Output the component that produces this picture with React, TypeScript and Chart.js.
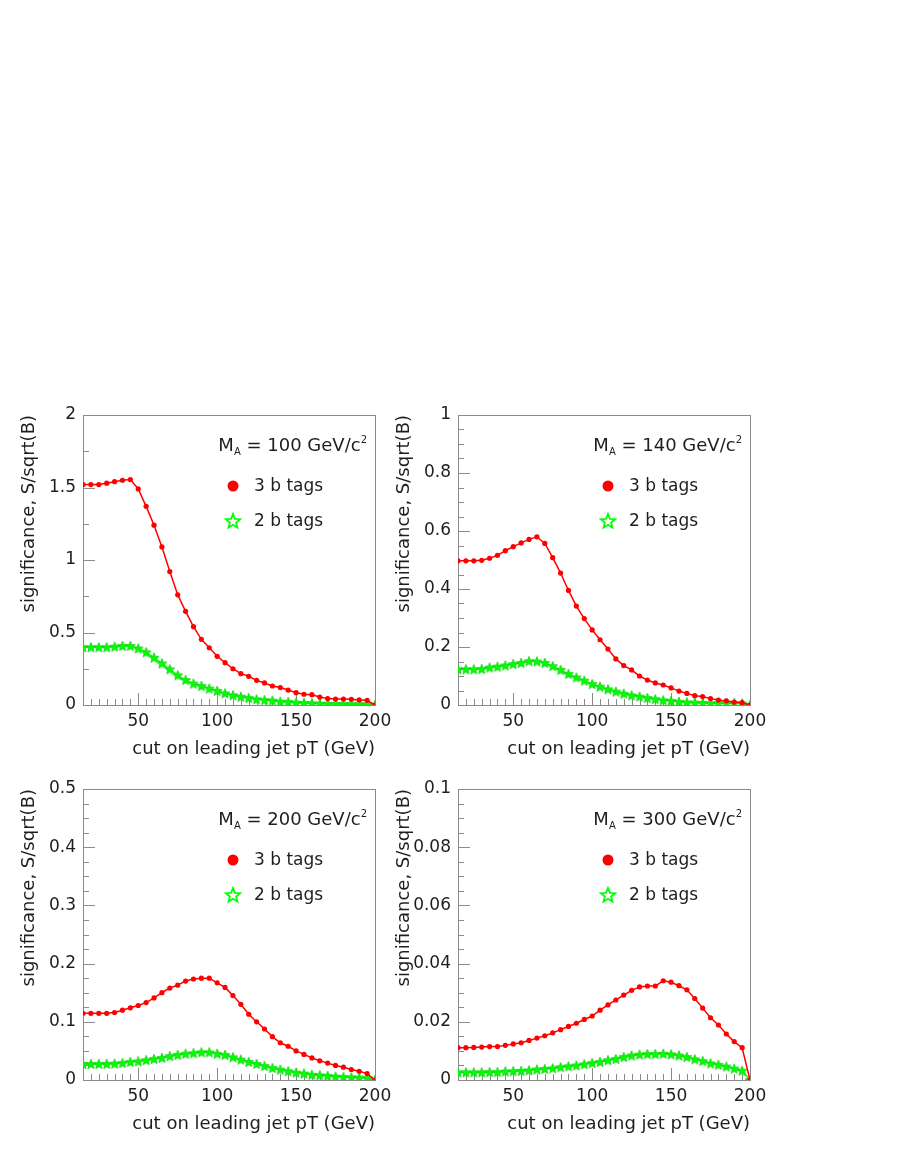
import React, { useEffect, useRef } from "react";
import { Chart, registerables } from "chart.js";

Chart.register(...registerables);

// ---- data ----
const cutValues = [15, 20, 25, 30, 35, 40, 45, 50, 55, 60, 65, 70, 75, 80, 85, 90, 95, 100, 105, 110, 115, 120, 125, 130, 135, 140, 145, 150, 155, 160, 165, 170, 175, 180, 185, 190, 195, 200];

const sig3b_MA100 = [1.52, 1.52, 1.52, 1.53, 1.54, 1.55, 1.555, 1.49, 1.37, 1.24, 1.09, 0.92, 0.76, 0.646, 0.54, 0.453, 0.395, 0.336, 0.292, 0.25, 0.216, 0.198, 0.17, 0.152, 0.131, 0.12, 0.103, 0.085, 0.074, 0.071, 0.055, 0.044, 0.041, 0.041, 0.039, 0.035, 0.032, 0];
const sig2b_MA100 = [0.398, 0.398, 0.398, 0.398, 0.402, 0.407, 0.407, 0.39, 0.363, 0.326, 0.287, 0.246, 0.205, 0.172, 0.147, 0.131, 0.113, 0.097, 0.08, 0.067, 0.057, 0.048, 0.039, 0.034, 0.03, 0.023, 0.021, 0.016, 0.014, 0.012, 0.009, 0.009, 0.007, 0.007, 0.006, 0.005, 0.005, 0];

const sig3b_MA140 = [0.497, 0.497, 0.497, 0.499, 0.506, 0.516, 0.532, 0.546, 0.559, 0.571, 0.58, 0.557, 0.508, 0.455, 0.395, 0.341, 0.298, 0.259, 0.225, 0.193, 0.159, 0.136, 0.121, 0.1, 0.086, 0.076, 0.069, 0.059, 0.048, 0.04, 0.032, 0.029, 0.022, 0.017, 0.014, 0.01, 0.008, 0];
const sig2b_MA140 = [0.123, 0.123, 0.123, 0.124, 0.129, 0.132, 0.136, 0.141, 0.145, 0.151, 0.15, 0.145, 0.134, 0.121, 0.107, 0.095, 0.084, 0.072, 0.063, 0.054, 0.046, 0.039, 0.033, 0.029, 0.024, 0.02, 0.016, 0.014, 0.011, 0.009, 0.008, 0.007, 0.006, 0.006, 0.006, 0.006, 0.005, 0];

const sig3b_MA200 = [0.1145, 0.1145, 0.1145, 0.1145, 0.116, 0.12, 0.124, 0.128, 0.133, 0.141, 0.15, 0.158, 0.163, 0.17, 0.1735, 0.175, 0.175, 0.167, 0.159, 0.145, 0.13, 0.113, 0.1, 0.0876, 0.0745, 0.064, 0.058, 0.05, 0.044, 0.038, 0.033, 0.029, 0.025, 0.022, 0.018, 0.015, 0.011, 0];
const sig2b_MA200 = [0.0275, 0.0275, 0.0275, 0.0275, 0.028, 0.029, 0.031, 0.032, 0.034, 0.036, 0.038, 0.041, 0.043, 0.045, 0.046, 0.0475, 0.0475, 0.045, 0.043, 0.039, 0.035, 0.031, 0.0275, 0.024, 0.0206, 0.0178, 0.015, 0.0126, 0.011, 0.009, 0.008, 0.007, 0.0057, 0.005, 0.0046, 0.004, 0.0034, 0];

const sig3b_MA300 = [0.0111, 0.0111, 0.0112, 0.0113, 0.0115, 0.0115, 0.0119, 0.0124, 0.0128, 0.0136, 0.0144, 0.0152, 0.0162, 0.0173, 0.0184, 0.0195, 0.0208, 0.022, 0.024, 0.0258, 0.0275, 0.0292, 0.0308, 0.032, 0.0323, 0.0323, 0.0341, 0.0336, 0.0324, 0.031, 0.028, 0.0247, 0.0214, 0.0189, 0.0158, 0.0132, 0.0111, 0];
const sig2b_MA300 = [0.0026, 0.0026, 0.0026, 0.0026, 0.0027, 0.0027, 0.0029, 0.003, 0.0031, 0.0033, 0.0036, 0.0038, 0.004, 0.0044, 0.0047, 0.005, 0.0054, 0.0058, 0.0062, 0.0068, 0.0072, 0.0079, 0.0084, 0.0087, 0.0089, 0.0089, 0.009, 0.0088, 0.0084, 0.0079, 0.0071, 0.0065, 0.0057, 0.0052, 0.0046, 0.0039, 0.0032, 0];

const xMajorTicks = [50, 100, 150, 200];
const massLabels = ["100", "140", "200", "300"];
const seriesLabels = ["3 b tags", "2 b tags"];
const xTitle = "cut on leading jet pT (GeV)";
const yTitle = "significance, S/sqrt(B)";

// ---- layout / style ----
const FONT = "'DejaVu Sans', sans-serif";
const TEXT = "#1e1e1e";
const FRAME = "#8a8a8a";
const RED = "#ff0000";
const GREEN = "#00ff00";
const PAD_L = 83, PAD_T = 20, PAD_R = 30, PAD_B = 60;

const panels = [
  { mass: massLabels[0], s3: sig3b_MA100, s2: sig2b_MA100, yMax: 2, yMajor: 0.5, yMinor: 0.25, left: 83, top: 415, right: 375, bottom: 705 },
  { mass: massLabels[1], s3: sig3b_MA140, s2: sig2b_MA140, yMax: 1, yMajor: 0.2, yMinor: 0.05, left: 458, top: 415, right: 750, bottom: 705 },
  { mass: massLabels[2], s3: sig3b_MA200, s2: sig2b_MA200, yMax: 0.5, yMajor: 0.1, yMinor: 0.025, left: 83, top: 789, right: 375, bottom: 1080 },
  { mass: massLabels[3], s3: sig3b_MA300, s2: sig2b_MA300, yMax: 0.1, yMajor: 0.02, yMinor: 0.005, left: 458, top: 789, right: 750, bottom: 1080 },
];

function starPath(ctx: CanvasRenderingContext2D, cx: number, cy: number, ro: number, ri: number) {
  ctx.beginPath();
  for (let i = 0; i < 10; i++) {
    const r = i % 2 === 0 ? ro : ri;
    const a = -Math.PI / 2 + (i * Math.PI) / 5;
    const px = cx + r * Math.cos(a);
    const py = cy + r * Math.sin(a);
    if (i === 0) ctx.moveTo(px, py);
    else ctx.lineTo(px, py);
  }
  ctx.closePath();
}

function makeStarImage(): HTMLCanvasElement {
  const c = document.createElement("canvas");
  c.width = 12;
  c.height = 12;
  const ctx = c.getContext("2d")!;
  starPath(ctx, 6, 6.4, 5.2, 2.3);
  ctx.fillStyle = GREEN;
  ctx.fill();
  ctx.strokeStyle = "#10d010";
  ctx.lineWidth = 0.8;
  ctx.stroke();
  return c;
}

const fmt = (v: number) => String(parseFloat(Number(v).toFixed(4)));

const framePlugin = {
  id: "rootFrame",
  beforeDatasetsDraw(chart: any, _args: any, opts: any) {
    const { ctx, chartArea: a, scales } = chart;
    const xs = scales.x, ys = scales.y;
    ctx.save();
    ctx.strokeStyle = FRAME;
    ctx.lineWidth = 1;
    ctx.strokeRect(Math.round(a.left) + 0.5, Math.round(a.top) + 0.5, Math.round(a.right - a.left), Math.round(a.bottom - a.top));
    ctx.beginPath();
    // x ticks (inward from bottom)
    for (let v = 20; v < 200; v += 5) {
      const px = Math.round(xs.getPixelForValue(v)) + 0.5;
      const len = v % 50 === 0 ? 12 : 6;
      ctx.moveTo(px, a.bottom);
      ctx.lineTo(px, a.bottom - len);
    }
    // y ticks (inward from left)
    const n = Math.round(opts.yMax / opts.yMinor);
    const per = Math.round(opts.yMajor / opts.yMinor);
    for (let i = 1; i < n; i++) {
      const v = i * opts.yMinor;
      const py = Math.round(ys.getPixelForValue(v)) + 0.5;
      const len = i % per === 0 ? 12 : 6;
      ctx.moveTo(a.left, py);
      ctx.lineTo(a.left + len, py);
    }
    ctx.stroke();
    ctx.restore();
  },
  afterDatasetsDraw(chart: any, _args: any, opts: any) {
    const { ctx, chartArea: a } = chart;
    ctx.save();
    ctx.fillStyle = TEXT;
    ctx.textBaseline = "alphabetic";
    // M_A = xxx GeV/c^2
    const big = `18px ${FONT}`;
    const small = `10px ${FONT}`;
    const parts = [
      { t: "M", f: big, dy: 0 },
      { t: "A", f: small, dy: 4 },
      { t: ` = ${opts.mass} GeV/c`, f: big, dy: 0 },
      { t: "2", f: small, dy: -8 },
    ];
    let total = 0;
    for (const p of parts) { ctx.font = p.f; total += ctx.measureText(p.t).width; }
    let x = a.right - 8 - total;
    const baseY = a.top + 36;
    for (const p of parts) {
      ctx.font = p.f;
      ctx.fillText(p.t, x, baseY + p.dy);
      x += ctx.measureText(p.t).width;
    }
    // legend
    const mx = a.right - 142;
    const y1 = a.top + 71;
    const y2 = a.top + 106;
    ctx.beginPath();
    ctx.arc(mx, y1, 5.5, 0, Math.PI * 2);
    ctx.fillStyle = RED;
    ctx.fill();
    starPath(ctx, mx, y2 + 0.5, 7.5, 3.3);
    ctx.strokeStyle = GREEN;
    ctx.lineWidth = 1.8;
    ctx.stroke();
    ctx.fillStyle = TEXT;
    ctx.font = `17px ${FONT}`;
    ctx.textBaseline = "middle";
    ctx.fillText(seriesLabels[0], a.right - 121, y1 + 1);
    ctx.fillText(seriesLabels[1], a.right - 121, y2 + 1);
    ctx.restore();
  },
};

function Panel({ p }: { p: (typeof panels)[number] }) {
  const ref = useRef<HTMLCanvasElement>(null);
  const w = p.right - p.left + PAD_L + PAD_R;
  const h = p.bottom - p.top + PAD_T + PAD_B;

  useEffect(() => {
    if (!ref.current) return;
    const starImg = makeStarImage();
    const chart = new Chart(ref.current, {
      type: "line",
      data: {
        datasets: [
          {
            label: seriesLabels[0],
            data: cutValues.map((x, i) => ({ x, y: p.s3[i] })),
            borderColor: RED,
            borderWidth: 1.5,
            pointRadius: 2.6,
            pointBackgroundColor: RED,
            pointBorderWidth: 0,
            tension: 0,
            fill: false,
          },
          {
            label: seriesLabels[1],
            data: cutValues.map((x, i) => ({ x, y: p.s2[i] })),
            borderColor: GREEN,
            borderWidth: 1.5,
            pointStyle: starImg as any,
            pointRadius: 5,
            tension: 0,
            fill: false,
          },
        ],
      },
      options: {
        responsive: false,
        animation: false,
        events: [],
        layout: { padding: { left: 0, top: PAD_T, right: PAD_R, bottom: 0 } },
        plugins: {
          legend: { display: false },
          tooltip: { enabled: false },
          rootFrame: { yMax: p.yMax, yMajor: p.yMajor, yMinor: p.yMinor, mass: p.mass },
        } as any,
        scales: {
          x: {
            type: "linear",
            min: 15,
            max: 200,
            afterBuildTicks: (s: any) => {
              s.ticks = xMajorTicks.map((v) => ({ value: v }));
            },
            afterFit: (s: any) => {
              s.height = PAD_B;
            },
            grid: { display: false, drawTicks: false },
            border: { display: false },
            ticks: {
              padding: 6,
              maxRotation: 0,
              autoSkip: false,
              color: TEXT,
              font: { family: FONT, size: 17 },
              callback: (v: any) => fmt(v),
            },
            title: {
              display: true,
              text: xTitle,
              align: "end",
              color: TEXT,
              font: { family: FONT, size: 18 },
              padding: { top: 0, bottom: 5 },
            },
          },
          y: {
            type: "linear",
            min: 0,
            max: p.yMax,
            afterFit: (s: any) => {
              s.width = PAD_L;
            },
            grid: { display: false, drawTicks: false },
            border: { display: false },
            ticks: {
              stepSize: p.yMajor,
              padding: 7,
              color: TEXT,
              font: { family: FONT, size: 17 },
              callback: (v: any) => fmt(v),
            },
            title: {
              display: true,
              text: yTitle,
              align: "end",
              color: TEXT,
              font: { family: FONT, size: 18 },
              padding: { top: 19, bottom: 0 },
            },
          },
        },
      },
      plugins: [framePlugin],
    });
    return () => chart.destroy();
  }, []);

  return (
    <canvas
      ref={ref}
      width={w}
      height={h}
      style={{ position: "absolute", left: p.left - PAD_L, top: p.top - PAD_T, width: w, height: h }}
    />
  );
}

export default function App() {
  return (
    <div style={{ position: "absolute", left: 0, top: 0, width: 900, height: 1164, background: "#fff" }}>
      {panels.map((p, i) => (
        <Panel key={i} p={p} />
      ))}
    </div>
  );
}
